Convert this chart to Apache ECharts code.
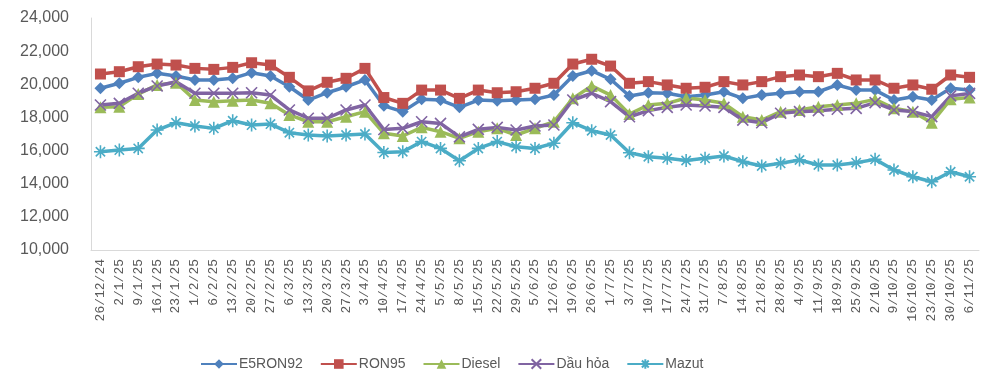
<!DOCTYPE html>
<html><head><meta charset="utf-8">
<script src="https://cdn.jsdelivr.net/npm/echarts@6/dist/echarts.min.js"></script>
<style>html,body{margin:0;padding:0;background:#fff}#c{width:1000px;height:390px}</style>
</head><body><div id="c"></div>
<script>
const categories = ["26/12/24","2/1/25","9/1/25","16/1/25","23/1/25","1/2/25","6/2/25","13/2/25","20/2/25","27/2/25","6/3/25","13/3/25","20/3/25","27/3/25","3/4/25","10/4/25","17/4/25","24/4/25","5/5/25","8/5/25","15/5/25","22/5/25","29/5/25","5/6/25","12/6/25","19/6/25","26/6/25","1/7/25","3/7/25","10/7/25","17/7/25","24/7/25","31/7/25","7/8/25","14/8/25","21/8/25","28/8/25","4/9/25","11/9/25","18/9/25","25/9/25","2/10/25","9/10/25","16/10/25","23/10/25","30/10/25","6/11/25"];
const e5ron92 = [19760,20060,20420,20660,20500,20260,20260,20360,20700,20500,19850,19050,19490,19850,20260,18700,18350,19090,19050,18610,19050,19010,19050,19090,19350,20500,20820,20300,19290,19490,19460,19250,19350,19550,19150,19350,19460,19550,19550,19960,19650,19650,19050,19250,19050,19760,19650];
const ron95 = [20620,20760,21060,21220,21160,20960,20900,21020,21300,21160,20420,19600,20120,20360,20960,19200,18850,19650,19650,19150,19650,19490,19550,19760,20060,21220,21510,21100,20060,20160,19960,19760,19820,20160,19960,20160,20460,20560,20460,20660,20260,20260,19760,19960,19700,20560,20420];
const diesel = [18610,18650,19410,19960,20100,19050,18950,19010,19050,18850,18150,17740,17740,18040,18350,17040,16880,17400,17140,16740,17140,17340,16940,17340,17740,19150,19900,19350,18200,18750,18850,19170,19050,18850,18040,17840,18350,18450,18650,18750,18850,19090,18550,18350,17680,19100,19200];
const dauHoa = [18750,18850,19460,19900,20150,19460,19460,19460,19490,19350,18450,17950,17950,18450,18750,17270,17340,17740,17640,16830,17280,17400,17240,17480,17540,19050,19460,18950,18040,18410,18610,18750,18690,18610,17840,17680,18250,18350,18410,18490,18550,18890,18450,18350,18050,19300,19450];
const mazut = [15930,16030,16130,17240,17680,17480,17340,17800,17540,17600,17080,16940,16880,16940,17000,15880,15930,16540,16130,15390,16130,16540,16230,16130,16440,17680,17200,16940,15870,15630,15530,15400,15530,15670,15330,15070,15230,15430,15130,15130,15270,15470,14830,14420,14120,14720,14420];
const seriesNames = ["E5RON92","RON95","Diesel","Dầu hỏa","Mazut"];
const yTicks = {min:10000, max:24000, interval:2000};

const colors = ['#4F81BD','#C0504D','#9BBB59','#8064A2','#4BACC6'];
const xPath = 'path://M0,0L10,10M10,0L0,10';
const starPath = 'path://M0,0L10,10M10,0L0,10M5,-2L5,12M-2,5L12,5';
function mk(name, data, color, symbol, size, stroke){
  return {
    name, type:'line', data, symbol, symbolSize:size, showSymbol:true,
    lineStyle:{width:3.5, color},
    itemStyle: stroke ? {color:color, borderColor:color, borderWidth:1.6} : {color:color},
    emphasis:{disabled:true}, animation:false
  };
}
const chart = echarts.init(document.getElementById('c'), null, {renderer:'canvas'});
chart.setOption({
  animation:false,
  color: colors,
  grid:{left:91, right:21, top:18, bottom:140},
  legend:{
    bottom:14, left:195, itemGap:17, itemWidth:36, itemHeight:12,
    textStyle:{fontFamily:'Liberation Sans', fontSize:14, color:'#595959', padding:[0,0,0,-3]},
    data: seriesNames
  },
  xAxis:{
    type:'category', data:categories, boundaryGap:true,
    axisLine:{lineStyle:{color:'#D9D9D9', width:1}},
    axisTick:{show:false},
    axisLabel:{rotate:90, interval:0, margin:9, fontFamily:'Liberation Mono', fontSize:13, color:'#595959'}
  },
  yAxis:{
    type:'value', min:yTicks.min, max:yTicks.max, interval:yTicks.interval,
    axisLine:{show:true, lineStyle:{color:'#D9D9D9', width:1}},
    axisTick:{show:false},
    splitLine:{show:false},
    axisLabel:{margin:22, fontFamily:'Liberation Sans', fontSize:16, color:'#595959',
      formatter: v => v.toLocaleString('en-US')}
  },
  series:[
    mk(seriesNames[0], e5ron92, colors[0], 'diamond', 12, false),
    mk(seriesNames[1], ron95, colors[1], 'rect', 11, false),
    mk(seriesNames[2], diesel, colors[2], 'triangle', 12, false),
    mk(seriesNames[3], dauHoa, colors[3], xPath, 11, true),
    mk(seriesNames[4], mazut, colors[4], starPath, 13, true)
  ]
});
</script></body></html>
